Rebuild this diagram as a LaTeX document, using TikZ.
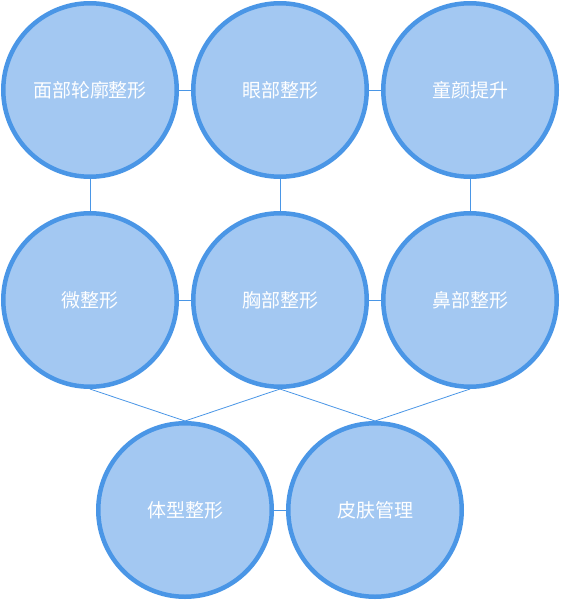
\documentclass[tikz,border=0pt]{standalone}
\usepackage{fontspec}
\newfontfamily\cjk{Noto Sans CJK SC}
\definecolor{cfill}{HTML}{A3C8F2}
\definecolor{cline}{HTML}{4A96E6}
\begin{document}
\begin{tikzpicture}[x=1pt,y=-1pt,
  bubble/.style={circle,draw=cline,fill=cfill,line width=4.5pt,minimum size=173.5pt,inner sep=0pt,
    text=white,font=\cjk\fontsize{19}{19}\selectfont},
  link/.style={draw=cline,line width=0.8pt}]
\useasboundingbox (0,0) rectangle (560,600);
\node[bubble] (a1) at (90,90) {面部轮廓整形};
\node[bubble] (a2) at (280,90) {眼部整形};
\node[bubble] (a3) at (470,90) {童颜提升};
\node[bubble] (b1) at (90,300) {微整形};
\node[bubble] (b2) at (280,300) {胸部整形};
\node[bubble] (b3) at (470,300) {鼻部整形};
\node[bubble] (c1) at (185,510) {体型整形};
\node[bubble] (c2) at (375,510) {皮肤管理};
\draw[link] (a1.east) -- (a2.west);
\draw[link] (a2.east) -- (a3.west);
\draw[link] (a1.south) -- (b1.north);
\draw[link] (a2.south) -- (b2.north);
\draw[link] (a3.south) -- (b3.north);
\draw[link] (b1.east) -- (b2.west);
\draw[link] (b2.east) -- (b3.west);
\draw[link] (b1.south) -- (c1.north);
\draw[link] (b2.south) -- (c1.north);
\draw[link] (b2.south) -- (c2.north);
\draw[link] (b3.south) -- (c2.north);
\draw[link] (c1.east) -- (c2.west);
\end{tikzpicture}
\end{document}
